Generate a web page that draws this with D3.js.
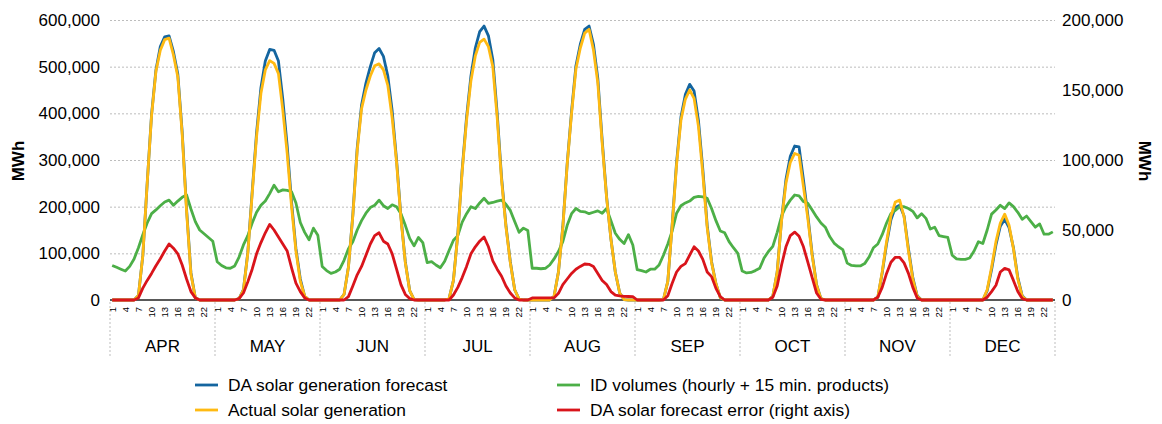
<!DOCTYPE html>
<html>
<head>
<meta charset="utf-8">
<script src="https://cdn.jsdelivr.net/npm/d3@7"></script>
<style>
  html, body { margin: 0; padding: 0; background: #ffffff; }
  svg { display: block; font-family: "Liberation Sans", Arial, sans-serif; }
</style>
</head>
<body>
<svg id="chart" width="1162" height="424"></svg>
<script>
// ---------------- DATA ----------------
const months = ["APR", "MAY", "JUN", "JUL", "AUG", "SEP", "OCT", "NOV", "DEC"];
const hours = [1,2,3,4,5,6,7,8,9,10,11,12,13,14,15,16,17,18,19,20,21,22,23,24];
const hourTickLabels = [1, 4, 7, 10, 13, 16, 19, 22];
const leftTicks = [0, 100000, 200000, 300000, 400000, 500000, 600000];
const rightTicks = [0, 50000, 100000, 150000, 200000];

// DA solar generation forecast (MWh, left axis), one row per month, hours 1..24
const daForecast = [
  [0,0,0,0,0,0,10000,95000,250000,398000,493000,543000,564000,566000,532000,484000,360000,195000,58000,5000,0,0,0,0],
  [0,0,0,0,0,3000,22000,102000,232000,358000,455000,512000,537000,535000,512000,430000,330000,210000,110000,45000,8000,0,0,0],
  [0,0,0,0,0,12000,71000,182000,325000,418000,465000,500000,530000,539000,522000,480000,405000,300000,178000,82000,20000,1000,0,0],
  [0,0,0,0,0,3000,42000,142000,280000,392000,480000,540000,575000,587000,566000,515000,400000,262000,160000,82000,22000,2000,0,0],
  [0,0,0,0,0,8000,60000,157000,292000,404000,502000,548000,580000,587000,548000,475000,342000,222000,131000,60000,15000,1000,0,0],
  [0,0,0,0,0,0,1000,40000,162000,295000,392000,440000,462000,448000,385000,280000,160000,82000,35000,5000,0,0,0,0],
  [0,0,0,0,0,0,0,8000,60000,172000,258000,308000,330000,328000,258000,182000,98000,33000,3000,0,0,0,0,0],
  [0,0,0,0,0,0,0,6000,58000,120000,172000,198000,203000,180000,110000,48000,9000,0,0,0,0,0,0,0],
  [0,0,0,0,0,0,0,0,20000,65000,118000,158000,173000,155000,112000,48000,9000,0,0,0,0,0,0,0]
];

// Actual solar generation (MWh, left axis)
const actualGen = [
  [0,0,0,0,0,0,10000,95000,250000,395000,490000,535000,558000,561000,525000,478000,355000,190000,55000,5000,0,0,0,0],
  [0,0,0,0,0,3000,21000,100000,228000,350000,443000,493000,513000,507000,485000,407000,314000,200000,105000,40000,8000,0,0,0],
  [0,0,0,0,0,12000,70000,180000,320000,410000,450000,480000,502000,506000,493000,460000,390000,295000,175000,80000,20000,1000,0,0],
  [0,0,0,0,0,3000,42000,140000,276000,385000,470000,523000,552000,559000,543000,500000,390000,257000,157000,80000,22000,2000,0,0],
  [0,0,0,0,0,8000,60000,155000,290000,400000,495000,540000,572000,580000,536000,465000,335000,220000,130000,60000,15000,1000,0,0],
  [0,0,0,0,0,0,1000,40000,160000,290000,385000,430000,450000,432000,372000,270000,155000,80000,35000,5000,0,0,0,0],
  [0,0,0,0,0,0,0,8000,60000,170000,250000,295000,314000,310000,243000,175000,95000,32000,3000,0,0,0,0,0],
  [0,0,0,0,0,0,0,6000,60000,125000,180000,210000,214000,178000,105000,45000,8000,0,0,0,0,0,0,0],
  [0,0,0,0,0,0,0,0,22000,70000,125000,165000,184000,160000,110000,45000,8000,0,0,0,0,0,0,0]
];

// ID volumes, hourly + 15 min. products (MWh, left axis)
const idVolumes = [
  [74000,70000,66000,62000,72000,88000,112000,140000,165000,185000,193000,202000,210000,214000,203000,212000,220000,225000,195000,168000,150000,142000,134000,126000],
  [82000,74000,69000,68000,73000,92000,118000,138000,165000,188000,203000,212000,228000,246000,232000,236000,235000,232000,208000,166000,145000,129000,154000,139000],
  [72000,63000,57000,60000,66000,85000,110000,125000,150000,170000,186000,198000,203000,214000,202000,196000,204000,200000,185000,160000,132000,116000,134000,123000],
  [80000,82000,75000,69000,83000,106000,128000,138000,167000,185000,200000,196000,208000,218000,207000,209000,212000,214000,205000,192000,168000,145000,154000,149000],
  [68000,68000,67000,68000,75000,88000,104000,125000,160000,185000,196000,190000,189000,185000,188000,191000,186000,196000,170000,143000,130000,121000,140000,118000],
  [65000,63000,60000,66000,66000,75000,96000,120000,148000,186000,202000,208000,212000,220000,222000,221000,218000,196000,170000,148000,144000,125000,112000,100000],
  [62000,58000,59000,63000,68000,90000,104000,115000,145000,180000,200000,214000,225000,223000,211000,207000,193000,178000,165000,156000,136000,122000,114000,108000],
  [79000,74000,73000,73000,78000,92000,112000,120000,140000,165000,185000,192000,200000,200000,196000,190000,176000,185000,175000,152000,156000,138000,136000,134000],
  [96000,88000,87000,87000,90000,105000,125000,121000,150000,184000,193000,203000,196000,208000,200000,188000,173000,180000,168000,156000,163000,141000,141000,146000]
];

// DA solar forecast error (MWh, right axis)
const forecastError = [
  [0,0,0,0,0,0,1500,8500,14000,19000,24500,29500,35000,40000,37000,33000,25000,15000,6000,1500,0,0,0,0],
  [0,0,0,0,0,1000,5000,13000,22000,33000,41000,48000,54000,50000,45000,40000,35000,23000,12000,6000,1500,0,0,0],
  [0,0,0,0,0,0,2400,10000,18000,24000,32000,40000,46000,48000,42000,40000,33000,22000,11000,4000,1000,0,0,0],
  [0,0,0,0,0,0,3600,9000,16000,24000,33000,38000,42000,45000,38000,28000,22000,17000,10000,5000,1500,0,0,0],
  [1500,1500,1500,1500,1500,1500,4800,11000,15000,19000,22000,24000,25700,25500,24000,19000,14000,11000,6000,3500,3000,2600,2500,2400],
  [0,0,0,0,0,0,0,3000,12000,20000,24000,26000,32000,38000,35000,29000,20000,16700,8300,2400,0,0,0,0],
  [0,0,0,0,0,0,0,2000,10000,25000,38000,46000,48500,45500,38000,27000,16000,5000,500,0,0,0,0,0],
  [0,0,0,0,0,0,0,2000,9000,19000,27000,30500,30500,26500,19000,9000,1500,0,0,0,0,0,0,0],
  [0,0,0,0,0,0,0,0,2000,6000,10500,20000,22600,21500,14000,6000,1000,0,0,0,0,0,0,0]
];

const seriesNames = [
  "DA solar generation forecast",
  "ID volumes (hourly + 15 min. products)",
  "Actual solar generation",
  "DA solar forecast error (right axis)"
];
const seriesColors = ["#14659f", "#4caf47", "#ffba12", "#d9141b"];
const axisTitle = "MWh";

// ---------------- LAYOUT ----------------
const plot = { left: 110, right: 1055, top: 20, bottom: 300 };
const svg = d3.select("#chart");

// categories: month x hour
const cats = [];
months.forEach(m => hours.forEach(h => cats.push({ key: m + "-" + h, month: m, hour: h })));

const x = d3.scaleBand().domain(cats.map(c => c.key)).range([plot.left, plot.right]).padding(0);
const cx = k => x(k) + x.bandwidth() / 2;
const yL = d3.scaleLinear().domain([0, 600000]).range([plot.bottom, plot.top]);
const yR = d3.scaleLinear().domain([0, 200000]).range([plot.bottom, plot.top]);
const fmt = d3.format(",");

// gridlines
const grid = svg.append("g").attr("transform", `translate(${plot.left},0)`)
  .call(d3.axisLeft(yL).tickValues(leftTicks.filter(v => v > 0)).tickSize(-(plot.right - plot.left)).tickFormat(""));
grid.select(".domain").remove();
grid.selectAll("line").attr("stroke", "#bdbdbd").attr("stroke-width", 1).attr("stroke-dasharray", "2,2");

// left axis labels
const gL = svg.append("g").attr("transform", `translate(${plot.left},0)`)
  .call(d3.axisLeft(yL).tickValues(leftTicks).tickSize(0).tickPadding(10).tickFormat(fmt));
gL.select(".domain").remove();
gL.selectAll("text").attr("font-size", 17).attr("fill", "#000").attr("font-family", "Liberation Sans, Arial, sans-serif");

// right axis labels
const gR = svg.append("g").attr("transform", `translate(${plot.right},0)`)
  .call(d3.axisRight(yR).tickValues(rightTicks).tickSize(0).tickPadding(7).tickFormat(fmt));
gR.select(".domain").remove();
gR.selectAll("text").attr("font-size", 17).attr("fill", "#000").attr("font-family", "Liberation Sans, Arial, sans-serif");

// axis titles
svg.append("text").attr("transform", "translate(24,161) rotate(-90)")
  .attr("text-anchor", "middle").attr("font-size", 17).attr("font-weight", "bold").text(axisTitle);
svg.append("text").attr("transform", "translate(1139,161) rotate(90)")
  .attr("text-anchor", "middle").attr("font-size", 17).attr("font-weight", "bold").text(axisTitle);

// month separators (dotted)
const sepX = months.map(m => x(m + "-1")).concat([plot.right]);
svg.append("g").selectAll("line").data(sepX).join("line")
  .attr("x1", d => d).attr("x2", d => d).attr("y1", plot.bottom + 2).attr("y2", 357)
  .attr("stroke", "#bdbdbd").attr("stroke-width", 1).attr("stroke-dasharray", "2,2");

// hour tick labels
const gB = svg.append("g").attr("transform", `translate(0,${plot.bottom})`)
  .call(d3.axisBottom(x).tickValues(cats.filter(c => hourTickLabels.includes(c.hour)).map(c => c.key))
    .tickSize(0).tickFormat(k => k.split("-")[1]));
gB.select(".domain").remove();
gB.selectAll("text").attr("font-size", 9.5).attr("fill", "#000")
  .attr("transform", "rotate(-90)").attr("text-anchor", "end")
  .attr("x", -7).attr("y", 0).attr("dy", "0.35em");

// month labels
svg.append("g").selectAll("text").data(months).join("text")
  .attr("x", m => (x(m + "-1") + x(m + "-24") + x.bandwidth()) / 2)
  .attr("y", 352).attr("text-anchor", "middle").attr("font-size", 17).attr("fill", "#000")
  .text(m => m);

// baseline axis
svg.append("line").attr("x1", plot.left).attr("x2", plot.right)
  .attr("y1", yL(0)).attr("y2", yL(0)).attr("stroke", "#595959").attr("stroke-width", 2);

// series
const flat = arr => arr.flat().map((v, i) => ({ key: cats[i].key, v }));
const lineL = d3.line().x(d => cx(d.key)).y(d => yL(d.v));
const lineR = d3.line().x(d => cx(d.key)).y(d => yR(d.v));

const seriesDefs = [
  { data: flat(daForecast), gen: lineL, color: seriesColors[0] },
  { data: flat(idVolumes), gen: lineL, color: seriesColors[1] },
  { data: flat(actualGen), gen: lineL, color: seriesColors[2] },
  { data: flat(forecastError), gen: lineR, color: seriesColors[3] }
];
seriesDefs.forEach(s => {
  svg.append("path").datum(s.data).attr("d", s.gen)
    .attr("fill", "none").attr("stroke", s.color).attr("stroke-width", 2.8)
    .attr("stroke-linejoin", "round");
});

// legend
const legendPos = [
  { x: 195, y: 385 }, { x: 557, y: 385 }, { x: 195, y: 410 }, { x: 557, y: 410 }
];
const lg = svg.append("g").selectAll("g").data(seriesNames).join("g")
  .attr("transform", (d, i) => `translate(${legendPos[i].x},${legendPos[i].y})`);
lg.append("line").attr("x1", 0).attr("x2", 23).attr("y1", 0).attr("y2", 0)
  .attr("stroke", (d, i) => seriesColors[i]).attr("stroke-width", 2.8);
lg.append("text").attr("x", 33).attr("y", 0).attr("dy", "0.35em")
  .attr("font-size", 17.4).attr("fill", "#000").text(d => d);
</script>
</body>
</html>
